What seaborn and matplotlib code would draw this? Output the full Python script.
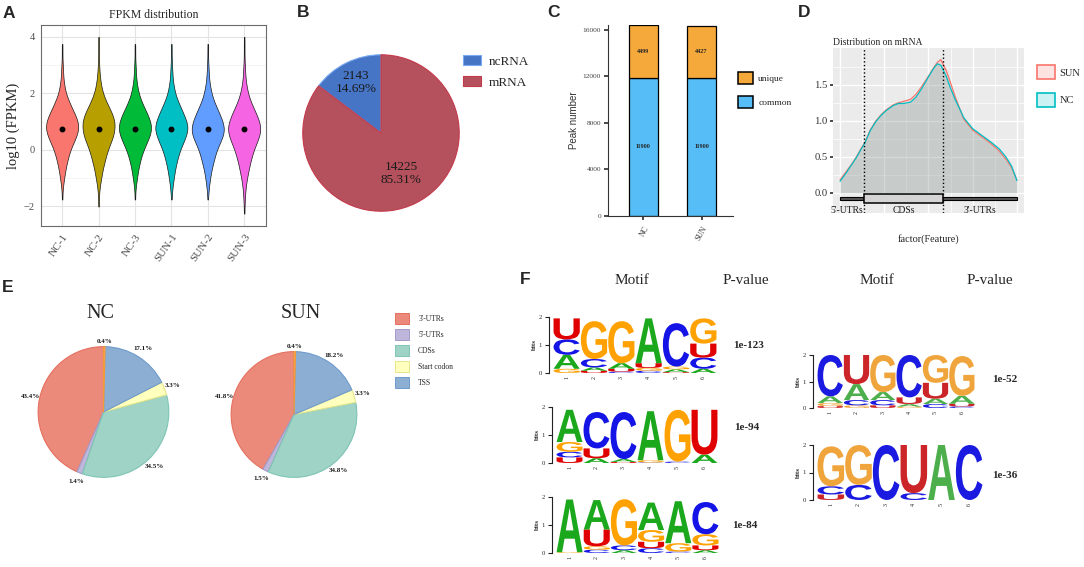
import numpy as np
import pandas as pd
import matplotlib
matplotlib.use("Agg")
import matplotlib.pyplot as plt
import seaborn as sns
from matplotlib.patches import Patch, PathPatch, Rectangle
from matplotlib.textpath import TextPath
from matplotlib.font_manager import FontProperties
from matplotlib.transforms import Affine2D

# ---------------- data ----------------
# A: log10(FPKM) per sample, as binned counts
samples = ["NC-1", "NC-2", "NC-3", "SUN-1", "SUN-2", "SUN-3"]
violin_colors = ["#F8766D", "#B79F00", "#00BA38", "#00BFC4", "#619CFF", "#F564E3"]
fpkm_bins = [-2.5, -2.25, -2.0, -1.75, -1.5, -1.25, -1.0, -0.75, -0.5, -0.25, 0.0, 0.25, 0.5,
             0.75, 1.0, 1.25, 1.5, 1.75, 2.0, 2.25, 2.5, 2.75, 3.0, 3.25, 3.5, 3.75, 4.0]
nc1_counts = [0, 0, 0, 1, 1, 3, 6, 9, 13, 18, 24, 33, 42, 48, 46, 38, 28, 19, 11, 7, 4, 3, 2, 1, 1, 1, 0]
nc2_counts = [0, 0, 1, 1, 2, 4, 8, 11, 16, 21, 27, 35, 43, 47, 47, 41, 31, 21, 13, 8, 5, 3, 2, 1, 1, 1, 1]
nc3_counts = [0, 0, 0, 1, 1, 3, 6, 9, 13, 18, 25, 34, 43, 48, 45, 37, 27, 18, 11, 7, 4, 3, 2, 1, 1, 1, 0]
sun1_counts = [0, 0, 0, 1, 2, 4, 7, 10, 14, 19, 25, 34, 42, 48, 44, 36, 27, 18, 11, 7, 4, 3, 2, 1, 1, 1, 0]
sun2_counts = [0, 0, 0, 1, 2, 4, 7, 10, 15, 20, 26, 35, 44, 48, 43, 35, 26, 17, 11, 7, 4, 3, 2, 1, 1, 1, 0]
sun3_counts = [0, 1, 1, 2, 3, 5, 8, 12, 16, 21, 27, 35, 43, 47, 43, 35, 26, 17, 11, 7, 4, 3, 2, 1, 1, 1, 1]
fpkm_counts = [nc1_counts, nc2_counts, nc3_counts, sun1_counts, sun2_counts, sun3_counts]

# B: peaks on ncRNA / mRNA
rna_types = ["ncRNA", "mRNA"]
rna_counts = [2143, 14225]
rna_pct = [14.69, 85.31]
rna_colors = ["#4675C6", "#B4515C"]
rna_edges = ["#7AAAF0", "#C43A4C"]

# C: peak numbers
groups = ["NC", "SUN"]
common_peaks = [11900, 11900]
unique_peaks = [4499, 4427]

# D: metagene density on mRNA
feature_pos = [0.0, 0.03, 0.06, 0.09, 0.12, 0.14, 0.17, 0.2, 0.23, 0.26, 0.3, 0.33, 0.36, 0.4,
               0.43, 0.46, 0.5, 0.53, 0.55, 0.57, 0.6, 0.62, 0.65, 0.7, 0.75, 0.8, 0.85, 0.9,
               0.94, 0.97, 1.0]
sun_density = [0.18, 0.28, 0.38, 0.49, 0.62, 0.70, 0.87, 0.99, 1.08, 1.15, 1.22, 1.25, 1.27, 1.30,
               1.37, 1.47, 1.62, 1.74, 1.81, 1.85, 1.70, 1.56, 1.34, 1.02, 0.87, 0.78, 0.69, 0.58,
               0.46, 0.35, 0.18]
nc_density = [0.16, 0.26, 0.37, 0.48, 0.61, 0.69, 0.86, 0.98, 1.07, 1.14, 1.21, 1.24, 1.24, 1.26,
              1.33, 1.44, 1.61, 1.73, 1.79, 1.77, 1.62, 1.48, 1.30, 1.04, 0.89, 0.80, 0.71, 0.61,
              0.49, 0.37, 0.17]
region_names = ["5'-UTRs", "CDSs", "3'-UTRs"]
region_bounds = [0.0, 0.138, 0.58, 1.0]

# E: peak distribution by feature (%)
features = ["3'-UTRs", "5'-UTRs", "CDSs", "Start codon", "TSS", "Stop codon"]
feature_colors = ["#EB8A7B", "#BEB7DB", "#9ED3C6", "#FFFFBE", "#8DAED3", "#F6B06A"]
feature_edges = ["#E5705F", "#A49CCB", "#7FC4B4", "#E6E68C", "#6E9BCC", "#F39A3B"]
nc_share = [43.4, 1.4, 34.5, 3.3, 17.1, 0.4]
sun_share = [41.8, 1.5, 34.8, 3.3, 18.2, 0.4]

# F: motifs, letters bottom-up with heights in bits
motif1_letters = ["GACU", "UACG", "CUAG", "CGUA", "UAGC", "ACUG"]
motif1_bits = [[0.15, 0.5, 0.55, 0.75], [0.08, 0.12, 0.3, 1.35], [0.05, 0.1, 0.2, 1.5],
               [0.08, 0.1, 0.17, 1.6], [0.03, 0.1, 0.1, 1.55], [0.15, 0.4, 0.5, 0.9]]
motif2_letters = ["UCGA", "AUC", "UAC", "CGA", "CG", "AU"]
motif2_bits = [[0.2, 0.2, 0.35, 1.15], [0.17, 0.35, 1.3], [0.04, 0.1, 1.68], [0.02, 0.08, 1.75],
               [0.05, 1.85], [0.3, 1.6]]
motif3_letters = ["GA", "CGUA", "ACG", "CUGA", "CGA", "AUGC"]
motif3_bits = [[0.03, 1.88], [0.12, 0.12, 0.6, 1.05], [0.1, 0.17, 1.65], [0.17, 0.23, 0.42, 0.98],
               [0.05, 0.3, 1.5], [0.1, 0.17, 0.4, 1.15]]
motif4_letters = ["UGAC", "GCAU", "UCAG", "GAUC", "CAUG", "CUAG"]
motif4_bits = [[0.07, 0.12, 0.25, 1.56], [0.1, 0.2, 0.6, 1.1], [0.1, 0.2, 0.3, 1.4],
               [0.05, 0.1, 0.25, 1.6], [0.15, 0.2, 0.6, 1.05], [0.06, 0.1, 0.3, 1.5]]
motif5_letters = ["UCG", "CG", "C", "CU", "A", "C"]
motif5_bits = [[0.2, 0.3, 1.45], [0.55, 1.45], [2.0], [0.25, 1.75], [2.0], [2.0]]
motif_pvalues = ["1e-123", "1e-94", "1e-84", "1e-52", "1e-36"]

# ---------------- figure ----------------
sns.set_theme(style="white")
plt.rcParams['font.family'] = ['Liberation Serif', 'DejaVu Serif']
plt.rcParams['axes.unicode_minus'] = True

W, H = 1084, 567
fig = plt.figure(figsize=(W / 100, H / 100), dpi=100)


def box(x0, y0, x1, y1):
    return fig.add_axes([x0 / W, 1 - y1 / H, (x1 - x0) / W, (y1 - y0) / H])


def ftext(x, y, s, **kw):
    return fig.text(x / W, 1 - y / H, s, **kw)


def panel_label(x, y, s):
    ftext(x, y, s, fontsize=12.5, fontweight='bold', family='Liberation Sans',
          ha='center', va='center')


def px_legend(handles, labels, x, y, fs, hl, hh, ls, tp):
    fig.legend(handles, labels, loc='upper left', bbox_to_anchor=(x / W, 1 - y / H),
               frameon=False, fontsize=fs, handlelength=hl, handleheight=hh,
               labelspacing=ls, handletextpad=tp, borderpad=0, borderaxespad=0)


# ---- A
axA = box(41, 25, 266, 226)
df_a = pd.DataFrame({
    "sample": np.repeat(samples, [sum(c) for c in fpkm_counts]),
    "log10FPKM": np.concatenate([np.repeat(fpkm_bins, c) for c in fpkm_counts]),
})
sns.violinplot(data=df_a, x="sample", y="log10FPKM", hue="sample", order=samples,
               palette=violin_colors, legend=False, inner=None, cut=0, density_norm="width",
               width=0.88, bw_method=0.2, linewidth=0.5, linecolor="#1a1a1a", saturation=1,
               ax=axA)
sns.pointplot(data=df_a, x="sample", y="log10FPKM", order=samples, estimator="median",
              errorbar=None, linestyle="none", color="black", markers="o", markersize=2.2,
              ax=axA)
axA.set_xlim(-0.58, 5.6)
axA.set_ylim(-2.69, 4.42)
axA.set_yticks([-2, 0, 2, 4])
axA.set_yticks([-1, 1, 3], minor=True)
axA.grid(True, which='major', color='#E3E3E3', lw=0.8)
axA.grid(True, which='minor', axis='y', color='#F0F0F0', lw=0.5)
axA.set_axisbelow(True)
for sp in axA.spines.values():
    sp.set_color('#6b6b6b')
    sp.set_linewidth(0.8)
axA.tick_params(axis='both', which='major', length=2.5, color='#6b6b6b', labelsize=7.5,
                labelcolor='#4D4D4D', pad=2)
axA.tick_params(axis='y', which='minor', length=0)
plt.setp(axA.get_xticklabels(), rotation=55, ha='right', rotation_mode='anchor', fontsize=8)
axA.set_xlabel("")
axA.set_ylabel("log10 (FPKM)", fontsize=10.5, labelpad=3)
axA.set_title("FPKM distribution", fontsize=8.5, pad=5)

# ---- B
axB = box(302, 54, 460, 212)
wedges, _ = axB.pie(rna_pct, colors=rna_colors, startangle=90, counterclock=True,
                    wedgeprops=dict(linewidth=0.8))
for w, ec, n, p, d in zip(wedges, rna_edges, rna_counts, rna_pct, [0.72, 0.58]):
    w.set_edgecolor(ec)
    th = np.deg2rad((w.theta1 + w.theta2) / 2)
    axB.text(d * np.cos(th), d * np.sin(th), f"{n}\n{p:.2f}%", ha='center', va='center',
             fontsize=9.5, linespacing=1.15, color='#1a1a1a')
axB.set_xlim(-1.01, 1.01)
axB.set_ylim(-1.01, 1.01)
px_legend([Patch(facecolor=c, edgecolor=e, lw=0.8) for c, e in zip(rna_colors, rna_edges)],
          rna_types, 463, 55, 9.5, 1.36, 0.83, 0.62, 0.6)

# ---- C
axC = box(608, 25, 733, 216)
df_c = pd.DataFrame({"group": groups * 2,
                     "type": ["common"] * len(groups) + ["unique"] * len(groups),
                     "peaks": common_peaks + unique_peaks})
peak_colors = {"unique": "#F5A93B", "common": "#56BDF6"}
sns.histplot(data=df_c, x="group", weights="peaks", hue="type", hue_order=["unique", "common"],
             multiple="stack", discrete=True, shrink=0.5, palette=peak_colors, alpha=1,
             edgecolor="black", linewidth=0.9, legend=False, ax=axC)
for cont in axC.containers:
    axC.bar_label(cont, labels=[f"{int(round(b.get_height()))}" for b in cont],
                  label_type='center', fontsize=4.4, fontweight='bold')
axC.set_xlim(-0.61, 1.54)
axC.set_ylim(0, 16420)
axC.set_yticks([0, 4000, 8000, 12000, 16000])
sns.despine(ax=axC)
for sp in ['left', 'bottom']:
    axC.spines[sp].set_color('#333333')
    axC.spines[sp].set_linewidth(0.8)
axC.tick_params(axis='y', length=3, color='#333333', labelsize=5.3, labelcolor='#444444', pad=2,
                left=True)
axC.tick_params(axis='x', length=3, color='#333333', labelsize=5.5, labelcolor='#333333',
                bottom=True)
plt.setp(axC.get_xticklabels(), rotation=60, ha='right', rotation_mode='anchor')
axC.set_xlabel("")
axC.set_ylabel("Peak number", family='Liberation Sans', fontsize=7, color='#333333', labelpad=3)
px_legend([Patch(facecolor=peak_colors[k], edgecolor='black', lw=1.1) for k in ["unique", "common"]],
          ["unique", "common"], 738, 72, 6.8, 1.6, 1.6, 1.25, 0.55)

# ---- D
axD = box(833, 48, 1024, 213)
axD.set_facecolor('#EBEBEB')
df_d = pd.DataFrame({"pos": feature_pos * 2,
                     "density": sun_density + nc_density,
                     "group": ["SUN"] * len(feature_pos) + ["NC"] * len(feature_pos)})
dens_colors = {"SUN": "#F8766D", "NC": "#00BFC4"}
sns.lineplot(data=df_d, x="pos", y="density", hue="group", palette=dens_colors, lw=0.9,
             legend=False, ax=axD, zorder=3)
for g, sub in df_d.groupby("group"):
    axD.fill_between(sub["pos"], 0, sub["density"], color=dens_colors[g], alpha=0.2, lw=0,
                     zorder=2)
for b in region_bounds[1:3]:
    axD.axvline(b, color='black', ls=':', lw=1, zorder=4)
axD.add_patch(Rectangle((region_bounds[0], -0.1), region_bounds[3] - region_bounds[0], 0.04,
                        facecolor='#555555', edgecolor='black', lw=0.8, zorder=4))
axD.add_patch(Rectangle((region_bounds[1], -0.135), region_bounds[2] - region_bounds[1], 0.115,
                        facecolor='#D4D4D4', edgecolor='black', lw=1.1, zorder=5))
for name, lo, hi in zip(region_names, region_bounds[:-1], region_bounds[1:]):
    xc = (lo + hi) / 2 if name != "5'-UTRs" else lo + 0.04
    axD.text(xc, -0.245, name, ha='center', va='center', fontsize=6.9, color='#1a1a1a', zorder=6)
axD.set_xlim(-0.04, 1.04)
axD.set_ylim(-0.28, 2.01)
axD.set_yticks([0, 0.5, 1.0, 1.5])
axD.set_yticklabels(["0.0", "0.5", "1.0", "1.5"])
axD.set_yticks([0.25, 0.75, 1.25, 1.75], minor=True)
axD.set_xticks([0, 0.25, 0.5, 0.75, 1.0])
axD.set_xticks([0.125, 0.375, 0.625, 0.875], minor=True)
axD.set_xticklabels([])
axD.grid(True, which='major', color='white', lw=1)
axD.grid(True, which='minor', color='white', lw=0.5)
axD.set_axisbelow(True)
for sp in axD.spines.values():
    sp.set_visible(False)
axD.tick_params(axis='y', which='major', length=2, color='#333333', labelsize=7.7,
                labelcolor='#333333', pad=2, left=True)
axD.tick_params(axis='both', which='minor', length=0)
axD.tick_params(axis='x', which='major', length=0)
axD.set_xlabel("factor(Feature)", fontsize=7.4, labelpad=12)
axD.set_ylabel("")
axD.set_title("Distribution on mRNA", loc='left', fontsize=6.9, pad=2)
px_legend([Patch(facecolor=matplotlib.colors.to_rgba(dens_colors[g], 0.2), edgecolor=dens_colors[g],
                 lw=1.2) for g in ["SUN", "NC"]],
          ["SUN", "NC"], 1037, 65, 7.5, 1.73, 1.73, 1.3, 0.45)

# ---- E
for (x0, y0, x1, y1), title, tx, share in [((37.5, 346, 169.5, 478), "NC", 100, nc_share),
                                             ((230.5, 351, 357.5, 478), "SUN", 301, sun_share)]:
    ax = box(x0, y0, x1, y1)
    ws, _ = ax.pie(share, colors=feature_colors, startangle=90, counterclock=True,
                   wedgeprops=dict(linewidth=0.8))
    for w, ec, v in zip(ws, feature_edges, share):
        w.set_edgecolor(ec)
        th = np.deg2rad((w.theta1 + w.theta2) / 2)
        d = 1.08 if v < 1 else 1.14
        ax.text(d * np.cos(th), d * np.sin(th), f"{v}%", ha='center', va='center',
                fontsize=5, fontweight='bold', color='#1a1a1a')
    ax.set_xlim(-1.01, 1.01)
    ax.set_ylim(-1.01, 1.01)
    ftext(tx, 313, title, fontsize=14.5, ha='center', va='center')
px_legend([Patch(facecolor=c, edgecolor=e, lw=0.7) for c, e in zip(feature_colors[:5], feature_edges[:5])],
          features[:5], 395, 313, 5.5, 1.84, 1.75, 0.72, 1.2)

# ---- F
left_cols = {'A': '#1CA81C', 'C': '#1414E6', 'G': '#FFA100', 'U': '#E00000'}
right_cols = {'A': '#4CAF4C', 'C': '#1A1AE0', 'G': '#F0A53C', 'U': '#CC2529'}
logo_font = FontProperties(family='Liberation Sans', weight='bold')


def draw_logo(ax, letters, bits, cols):
    for i, (ls, bs) in enumerate(zip(letters, bits)):
        y = 0.0
        for ch, h in zip(ls, bs):
            tp = TextPath((0, 0), ch, size=1, prop=logo_font)
            bb = tp.get_extents()
            tr = (Affine2D().translate(-bb.x0, -bb.y0)
                  .scale(0.96 / bb.width, h / bb.height).translate(i + 1 - 0.48, y))
            ax.add_patch(PathPatch(tr.transform_path(tp), facecolor=cols[ch], edgecolor='none',
                                   clip_on=False))
            y += h
    ax.set_xlim(0.5, 6.5)
    ax.set_ylim(0, 2)
    ax.set_xticks(range(1, 7))
    ax.set_xticklabels([str(k) for k in range(1, 7)], rotation=90)
    ax.set_yticks([0, 1, 2])
    ax.set_yticklabels(["0", "1", "2"], fontweight='bold')
    ax.set_ylabel("bits", fontsize=5, fontweight='bold', labelpad=1)
    for sp in ['top', 'right', 'bottom']:
        ax.spines[sp].set_visible(False)
    ax.spines['left'].set_position(('outward', 3))
    ax.spines['left'].set_color('#222222')
    ax.spines['left'].set_linewidth(0.8)
    ax.tick_params(axis='y', length=3, width=0.8, color='#222222', pad=2, left=True,
                   labelsize=4.8)
    ax.tick_params(axis='x', length=0, pad=2, labelsize=4.3)
    ax.set_facecolor('none')


logo_specs = [((553, 317, 717, 373), motif1_letters, motif1_bits, left_cols, (749, 345)),
              ((556, 407, 718, 463), motif2_letters, motif2_bits, left_cols, (747, 427)),
              ((556, 497, 719, 553), motif3_letters, motif3_bits, left_cols, (745, 526)),
              ((817, 355, 975, 408), motif4_letters, motif4_bits, right_cols, (1005, 379)),
              ((817, 445, 983, 500), motif5_letters, motif5_bits, right_cols, (1005, 476))]
for (bx, letters, bits, cols, (px, py)), pv in zip(logo_specs, motif_pvalues):
    draw_logo(box(*bx), letters, bits, cols)
    ftext(px, py, pv, fontsize=8, fontweight='bold', ha='center', va='center')

for x, s in [(632, "Motif"), (746, "P-value"), (877, "Motif"), (990, "P-value")]:
    ftext(x, 280, s, fontsize=11, ha='center', va='center')

# panel letters
for x, y, s in [(9, 14, "A"), (303, 12.5, "B"), (553, 12.5, "C"), (804, 12.5, "D"),
                (8, 288, "E"), (525, 280, "F")]:
    panel_label(x, y, s)

fig.savefig("out.png", dpi=100)
